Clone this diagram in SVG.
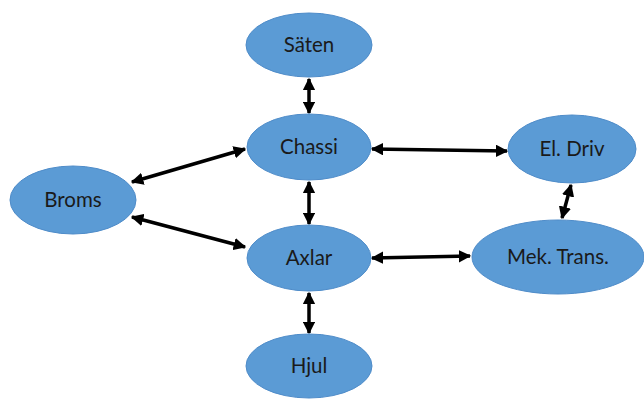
<svg xmlns="http://www.w3.org/2000/svg" width="644" height="399" viewBox="0 0 644 399">
<style>
.n ellipse{fill:#5B9BD5;stroke:#4F8CC9;stroke-width:1}
.n text{font-family:Lato,"Liberation Sans",Arial,sans-serif;font-size:20.5px;fill:#1a1a1a;text-anchor:middle}
.c line{stroke:#000;stroke-width:3.5;marker-start:url(#ah);marker-end:url(#ah)}
</style>
<defs>
<marker id="ah" viewBox="0 0 10 10" refX="9" refY="5" markerWidth="3.6" markerHeight="3.6" orient="auto-start-reverse" markerUnits="strokeWidth">
<path d="M0,0 L10,5 L0,10 z" fill="#000"/>
</marker>
</defs>
<rect width="644" height="399" fill="#fff"/>
<g class="c">
<line x1="309" y1="79" x2="309" y2="113"/>
<line x1="309" y1="182" x2="309" y2="224"/>
<line x1="309" y1="293" x2="309" y2="333"/>
<line x1="132" y1="182" x2="245" y2="149"/>
<line x1="132" y1="217" x2="245" y2="247"/>
<line x1="372" y1="149" x2="507" y2="151"/>
<line x1="372" y1="258" x2="470" y2="256"/>
<line x1="571" y1="185" x2="562" y2="218"/>
</g>
<g id="saten" class="n"><ellipse cx="309" cy="45" rx="63" ry="32"/><text x="309" y="52">Säten</text></g>
<g id="chassi" class="n"><ellipse cx="309" cy="147" rx="62" ry="33"/><text x="309" y="154">Chassi</text></g>
<g id="broms" class="n"><ellipse cx="73" cy="200" rx="63" ry="34"/><text x="73" y="207">Broms</text></g>
<g id="axlar" class="n"><ellipse cx="309" cy="258" rx="62" ry="33"/><text x="309" y="265">Axlar</text></g>
<g id="hjul" class="n"><ellipse cx="309" cy="366" rx="63" ry="32"/><text x="309" y="373">Hjul</text></g>
<g id="eldriv" class="n"><ellipse cx="572" cy="149" rx="64" ry="34"/><text x="572" y="156">El. Driv</text></g>
<g id="mektrans" class="n"><ellipse cx="558" cy="257" rx="86" ry="37"/><text x="558" y="264">Mek. Trans.</text></g>
</svg>
